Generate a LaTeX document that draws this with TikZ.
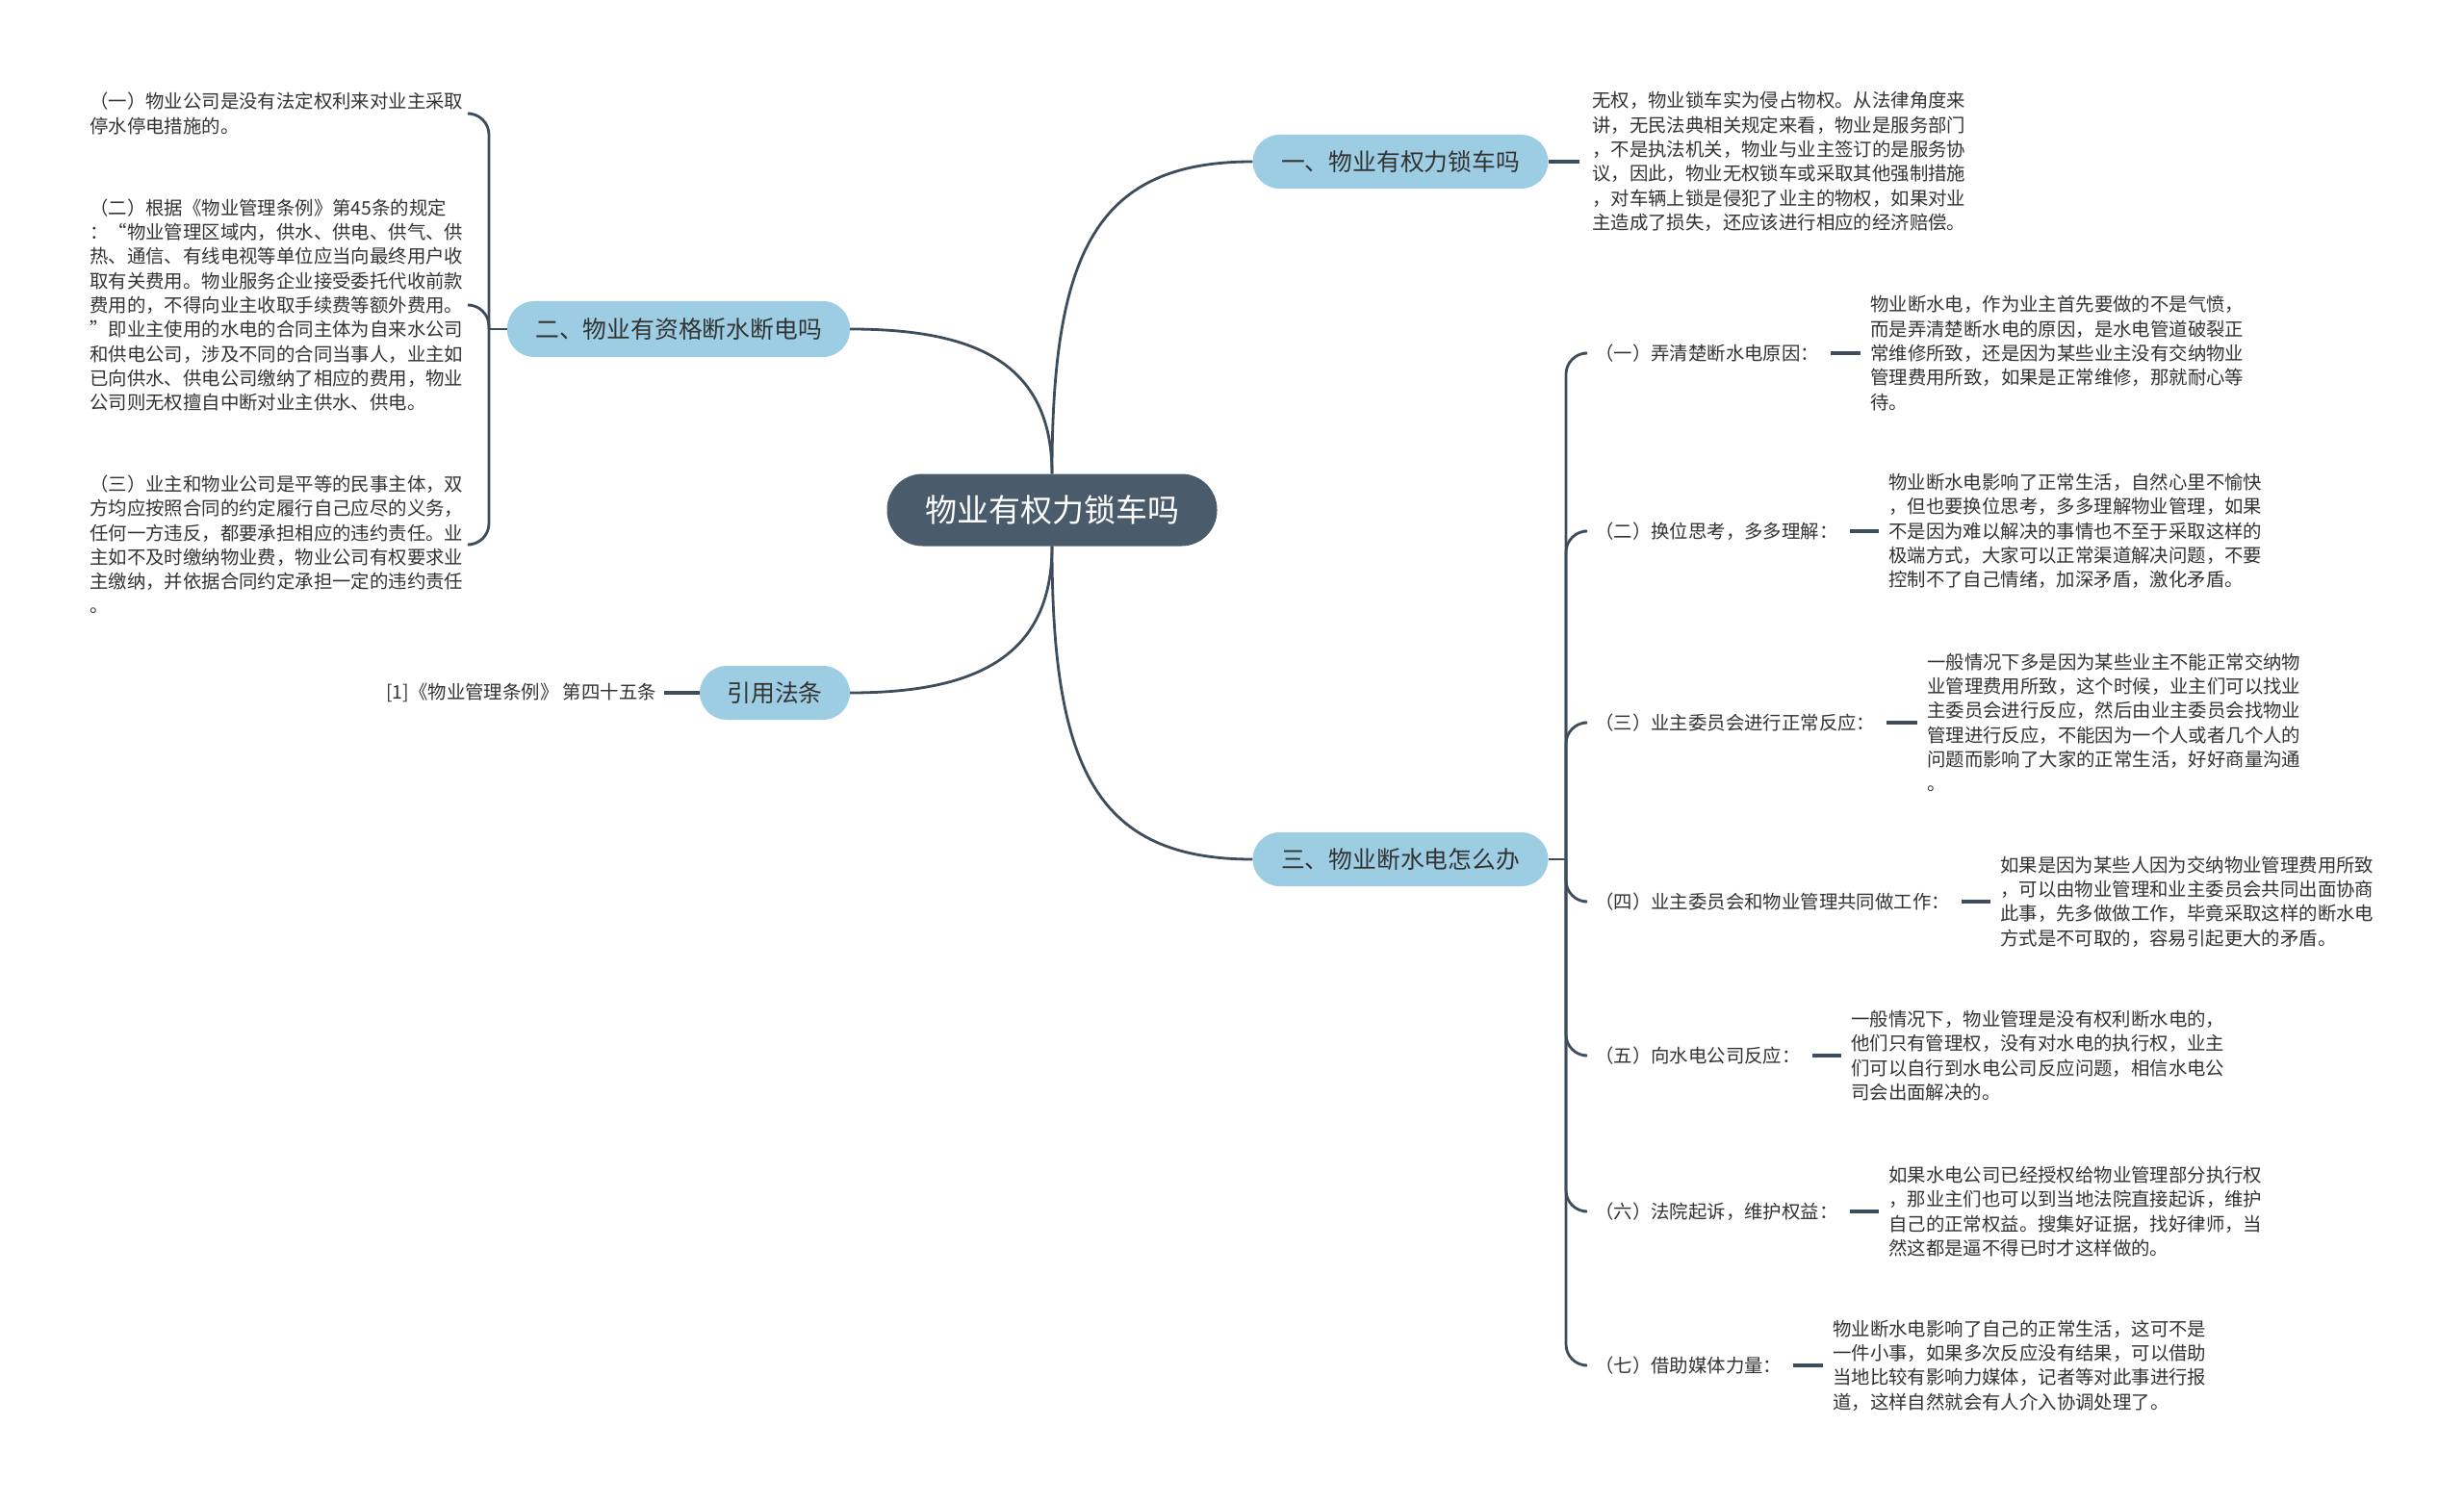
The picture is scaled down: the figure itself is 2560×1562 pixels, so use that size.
\documentclass[tikz,border=0pt]{standalone}
\usepackage{fontspec}
\setmainfont{Noto Sans CJK SC}
\definecolor{lineC}{HTML}{3E4D5C}
\definecolor{rootC}{HTML}{4A5B6C}
\definecolor{brC}{HTML}{9DCDE3}
\definecolor{txtC}{HTML}{333333}
\tikzset{
  conn/.style={draw=lineC, line width=2.8pt},
  tick/.style={draw=lineC, line width=3.6pt},
  trunk/.style={draw=lineC, line width=2.8pt, rounded corners=22pt},
  leaf/.style={inner sep=0pt, align=left, text=txtC, font=\fontsize{19.4}{25.3}\selectfont},
  lab/.style={inner sep=0pt, text=txtC, font=\fontsize{19.4}{25.3}\selectfont},
  branch/.style={fill=brC, rounded corners=28pt, minimum height=56pt, inner sep=0pt, text=txtC, font=\fontsize{24.8}{30}\selectfont},
  rootbox/.style={fill=rootC, rounded corners=37pt, minimum height=75pt, minimum width=343pt, inner sep=0pt, text=white, font=\fontsize{33}{40}\selectfont}
}
\begin{document}
\begin{tikzpicture}[x=1pt,y=-1pt]
\useasboundingbox (0,0) rectangle (2560,1562);

% root and main branches
\node[rootbox] (root) at (1093,530) {物业有权力锁车吗};
\node[branch, minimum width=307pt] (b1) at (1455,168) {一、物业有权力锁车吗};
\node[branch, minimum width=356pt, minimum height=58pt] (b2) at (705,342) {二、物业有资格断水断电吗};
\node[branch, minimum width=156pt] (b4) at (805,720) {引用法条};
\node[branch, minimum width=307pt] (b3) at (1455,893) {三、物业断水电怎么办};

\draw[conn] (root.north) .. controls (1093,260) and (1140,168) .. (b1.west);
\draw[conn] (root.north) .. controls (1093,375) and (1010,342) .. (b2.east);
\draw[conn] (root.south) .. controls (1093,685) and (1010,720) .. (b4.east);
\draw[conn] (root.south) .. controls (1093,800) and (1140,893) .. (b3.west);

% branch 1 leaf
\node[leaf, anchor=west] (t1) at (1654,168) {无权，物业锁车实为侵占物权。从法律角度来\\讲，无民法典相关规定来看，物业是服务部门\\，不是执法机关，物业与业主签订的是服务协\\议，因此，物业无权锁车或采取其他强制措施\\，对车辆上锁是侵犯了业主的物权，如果对业\\主造成了损失，还应该进行相应的经济赔偿。};
\draw[tick, shorten >=13pt] (b1.east) -- (t1.west);

% branch 2 leaves
\node[leaf, anchor=west] (l1) at (93,118) {（一）物业公司是没有法定权利来对业主采取\\停水停电措施的。};
\node[leaf, anchor=west] (l2) at (93,317) {（二）根据《物业管理条例》第45条的规定\\：“物业管理区域内，供水、供电、供气、供\\热、通信、有线电视等单位应当向最终用户收\\取有关费用。物业服务企业接受委托代收前款\\费用的，不得向业主收取手续费等额外费用。\\”即业主使用的水电的合同主体为自来水公司\\和供电公司，涉及不同的合同当事人，业主如\\已向供水、供电公司缴纳了相应的费用，物业\\公司则无权擅自中断对业主供水、供电。};
\node[leaf, anchor=west] (l3) at (93,566) {（三）业主和物业公司是平等的民事主体，双\\方均应按照合同的约定履行自己应尽的义务，\\任何一方违反，都要承担相应的违约责任。业\\主如不及时缴纳物业费，物业公司有权要求业\\主缴纳，并依据合同约定承担一定的违约责任\\。};
\coordinate (S2) at (508,342);
\draw[conn] (b2.west) -- (S2);
\draw[trunk, shorten >=8pt] (S2) -- (S2 |- l1.east) -- (l1.east);
\draw[trunk, shorten >=8pt] (S2) -- (S2 |- l2.east) -- (l2.east);
\draw[trunk, shorten >=8pt] (S2) -- (S2 |- l3.east) -- (l3.east);

% citation leaf
\node[lab, anchor=east] (r1) at (682,720) {[1]《物业管理条例》 第四十五条};
\draw[tick, shorten <=8pt] (r1.east) -- (b4.west);

% branch 3 children
\node[lab, anchor=west] (c1) at (1657,367) {（一）弄清楚断水电原因：};
\node[lab, anchor=west] (c2) at (1657,552) {（二）换位思考，多多理解：};
\node[lab, anchor=west] (c3) at (1657,751) {（三）业主委员会进行正常反应：};
\node[lab, anchor=west] (c4) at (1657,937) {（四）业主委员会和物业管理共同做工作：};
\node[lab, anchor=west] (c5) at (1657,1097) {（五）向水电公司反应：};
\node[lab, anchor=west] (c6) at (1657,1259) {（六）法院起诉，维护权益：};
\node[lab, anchor=west] (c7) at (1657,1419) {（七）借助媒体力量：};

\node[leaf, anchor=west] (d1) at (1943,367) {物业断水电，作为业主首先要做的不是气愤，\\而是弄清楚断水电的原因，是水电管道破裂正\\常维修所致，还是因为某些业主没有交纳物业\\管理费用所致，如果是正常维修，那就耐心等\\待。};
\node[leaf, anchor=west] (d2) at (1962,552) {物业断水电影响了正常生活，自然心里不愉快\\，但也要换位思考，多多理解物业管理，如果\\不是因为难以解决的事情也不至于采取这样的\\极端方式，大家可以正常渠道解决问题，不要\\控制不了自己情绪，加深矛盾，激化矛盾。};
\node[leaf, anchor=west] (d3) at (2002,751) {一般情况下多是因为某些业主不能正常交纳物\\业管理费用所致，这个时候，业主们可以找业\\主委员会进行反应，然后由业主委员会找物业\\管理进行反应，不能因为一个人或者几个人的\\问题而影响了大家的正常生活，好好商量沟通\\。};
\node[leaf, anchor=west] (d4) at (2078,937) {如果是因为某些人因为交纳物业管理费用所致\\，可以由物业管理和业主委员会共同出面协商\\此事，先多做做工作，毕竟采取这样的断水电\\方式是不可取的，容易引起更大的矛盾。};
\node[leaf, anchor=west] (d5) at (1923,1097) {一般情况下，物业管理是没有权利断水电的，\\他们只有管理权，没有对水电的执行权，业主\\们可以自行到水电公司反应问题，相信水电公\\司会出面解决的。};
\node[leaf, anchor=west] (d6) at (1962,1259) {如果水电公司已经授权给物业管理部分执行权\\，那业主们也可以到当地法院直接起诉，维护\\自己的正常权益。搜集好证据，找好律师，当\\然这都是逼不得已时才这样做的。};
\node[leaf, anchor=west] (d7) at (1904,1419) {物业断水电影响了自己的正常生活，这可不是\\一件小事，如果多次反应没有结果，可以借助\\当地比较有影响力媒体，记者等对此事进行报\\道，这样自然就会有人介入协调处理了。};

\coordinate (S3) at (1627,893);
\draw[conn] (b3.east) -- (S3);
\foreach \i in {1,...,7}{
  \draw[trunk, shorten >=12pt] (S3) -- (S3 |- c\i.west) -- (c\i.west);
  \draw[tick, shorten <=12pt, shorten >=10pt] (c\i.east) -- (d\i.west);
}
\end{tikzpicture}
\end{document}
